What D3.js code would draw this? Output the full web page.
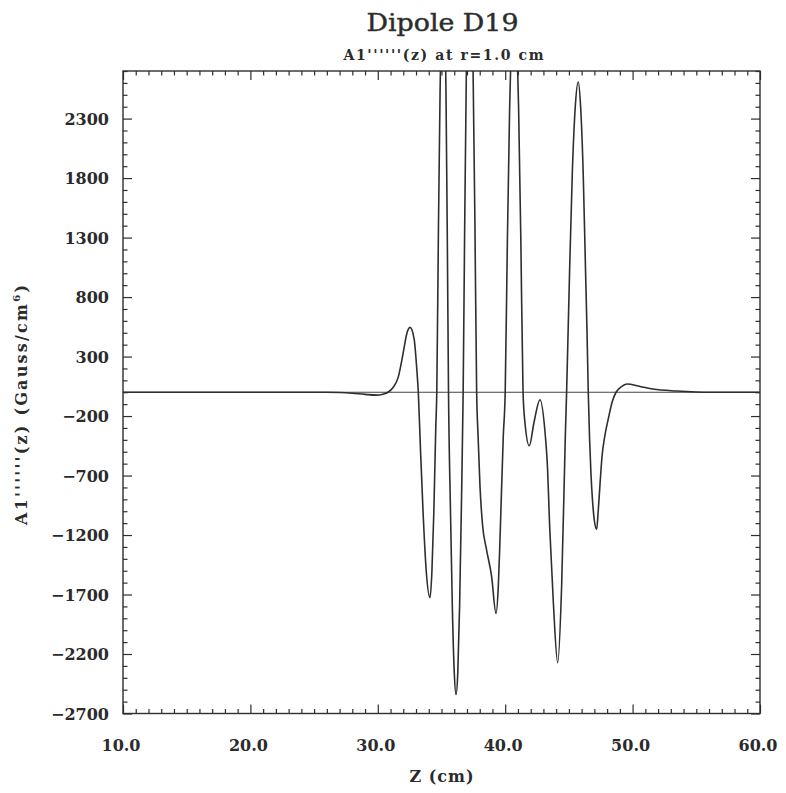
<!DOCTYPE html>
<html>
<head>
<meta charset="utf-8">
<script src="https://cdn.jsdelivr.net/npm/d3@7"></script>
<style>
  body { margin: 0; background: #ffffff; }
  text { font-family: "DejaVu Serif", "Liberation Serif", serif; fill: #2b2b2b; }
</style>
</head>
<body>
<svg id="chart" width="786" height="793"></svg>
<script>
// Sixth derivative of the dipole harmonic A1 along the magnet axis (r = 1.0 cm)
const titleText = "Dipole D19";
const subtitleText = "A1''''''(z) at r=1.0 cm";
const xLabelText = "Z (cm)";

// Longitudinal position, cm
const zValues = [
  10, 20, 26, 27, 28, 29, 29.9, 30.4, 30.8, 31.2, 31.6, 32.0, 32.27, 32.53, 32.85, 33.06,
  33.18, 33.35, 33.55, 33.8, 34.1, 34.25, 34.4, 34.55, 34.63,
  34.76, 34.89, 35.02, 35.15, 35.25, 35.35, 35.45, 35.55,
  35.7, 35.85, 36.0, 36.14, 36.28, 36.42, 36.56, 36.7,
  36.825, 36.95, 37.075, 37.2, 37.34, 37.48, 37.62, 37.76,
  37.87, 38.02, 38.23, 38.53, 38.93, 39.28, 39.46, 39.6, 39.85, 40.0,
  40.175, 40.35, 40.525, 40.7, 40.875, 41.05, 41.225, 41.4,
  41.55, 41.89, 42.26, 42.73, 43.15, 43.3, 43.5, 43.78, 44.12, 44.43, 44.72, 44.82,
  45.05, 45.27, 45.5, 45.73, 45.92, 46.12, 46.3, 46.42, 46.52,
  46.62, 46.73, 46.86, 47.0, 47.18, 47.3, 47.45, 47.6, 47.8, 48.1, 48.4, 48.7,
  49.1, 49.56, 50.58, 51.6, 53.46, 55, 56, 60
];
// A1''''''(z), Gauss/cm^6
const a1Values = [
  0, 0, 0, -2, -8, -18, -24, -16, 0, 40, 125, 335, 490, 545, 448, 195,
  0, -480, -1000, -1500, -1727, -1500, -1000, -300, 0,
  1380, 2545, 3330, 3600, 3330, 2545, 1380, 0,
  -970, -1800, -2350, -2540, -2350, -1800, -970, 0,
  1455, 2690, 3510, 3800, 3510, 2690, 1455, 0,
  -366, -788, -1124, -1320, -1545, -1859, -1629, -1208, -366, 0,
  1300, 2400, 3140, 3400, 3140, 2400, 1300, 0,
  -254, -450, -254, -63, -366, -591, -1152, -1769, -2274, -1629, -366, 0,
  1000, 1850, 2400, 2608, 2400, 1850, 1050, 520, 0,
  -380, -680, -920, -1080, -1152, -1000, -760, -540, -380, -220, -80, 0,
  45, 69, 49, 27, 10, 2, 0, 0
];

const xTickValues = [10, 20, 30, 40, 50, 60];
const xTickLabels = ["10.0", "20.0", "30.0", "40.0", "50.0", "60.0"];
const yTickValues = [-2700, -2200, -1700, -1200, -700, -200, 300, 800, 1300, 1800, 2300];
const yTickLabels = ["\u22122700", "\u22122200", "\u22121700", "\u22121200", "\u2212700", "\u2212200",
                     "300", "800", "1300", "1800", "2300"];

const frame = { left: 123, right: 760, top: 71, bottom: 713.5 };
const svg = d3.select("#chart");

const x = d3.scaleLinear().domain([10, 60]).range([frame.left, frame.right]);
const y = d3.scaleLinear().domain([-2700, 2700]).range([frame.bottom, frame.top]);

const ink = "#2e2e2e";

// clip for the curve
svg.append("defs").append("clipPath").attr("id", "plot-clip")
  .append("rect")
  .attr("x", frame.left).attr("y", frame.top)
  .attr("width", frame.right - frame.left).attr("height", frame.bottom - frame.top);

// zero line
svg.append("line")
  .attr("x1", frame.left).attr("x2", frame.right)
  .attr("y1", y(0)).attr("y2", y(0))
  .attr("stroke", "#444").attr("stroke-width", 1.1);

// curve
const points = zValues.map((z, i) => [z, a1Values[i]]);
const line = d3.line().x(d => x(d[0])).y(d => y(d[1])).curve(d3.curveMonotoneX);
svg.append("path")
  .attr("d", line(points))
  .attr("clip-path", "url(#plot-clip)")
  .attr("fill", "none")
  .attr("stroke", ink)
  .attr("stroke-width", 1.6)
  .attr("stroke-linejoin", "round");

// axes with inward ticks on all four sides
const xMinor = d3.range(10, 61, 1).filter(v => v % 10 !== 0);
const yMinor = d3.range(-2700, 2701, 100).filter(v => (v + 2700) % 500 !== 0);
const major = 9, minor = 4.5;

function addAxis(axis, tx, ty) {
  const g = svg.append("g").attr("transform", `translate(${tx},${ty})`).call(axis);
  g.selectAll(".domain").remove();
  g.selectAll("line").attr("stroke", ink).attr("stroke-width", 1.2);
  g.selectAll("text").remove();
  return g;
}
addAxis(d3.axisBottom(x).tickValues(xTickValues).tickSize(-major), 0, frame.bottom);
addAxis(d3.axisBottom(x).tickValues(xMinor).tickSize(-minor), 0, frame.bottom);
addAxis(d3.axisTop(x).tickValues(xTickValues).tickSize(-major), 0, frame.top);
addAxis(d3.axisTop(x).tickValues(xMinor).tickSize(-minor), 0, frame.top);
addAxis(d3.axisLeft(y).tickValues(yTickValues).tickSize(-major), frame.left, 0);
addAxis(d3.axisLeft(y).tickValues(yMinor).tickSize(-minor), frame.left, 0);
addAxis(d3.axisRight(y).tickValues(yTickValues).tickSize(-major), frame.right, 0);
addAxis(d3.axisRight(y).tickValues(yMinor).tickSize(-minor), frame.right, 0);

// frame
svg.append("rect")
  .attr("x", frame.left).attr("y", frame.top)
  .attr("width", frame.right - frame.left).attr("height", frame.bottom - frame.top)
  .attr("fill", "none").attr("stroke", ink).attr("stroke-width", 1.4);

// tick labels
svg.append("g").selectAll("text").data(xTickValues).join("text")
  .attr("x", d => x(d) - 2).attr("y", 751)
  .attr("text-anchor", "middle")
  .attr("font-size", 16).attr("font-weight", "bold")
  .text((d, i) => xTickLabels[i]);

svg.append("g").selectAll("text").data(yTickValues).join("text")
  .attr("x", 109).attr("y", d => y(d) + 6)
  .attr("text-anchor", "end")
  .attr("font-size", 16).attr("font-weight", "bold")
  .text((d, i) => yTickLabels[i]);

// titles
const cx = (frame.left + frame.right) / 2;
svg.append("text").attr("x", cx + 1).attr("y", 31)
  .attr("text-anchor", "middle").attr("font-size", 25)
  .attr("fill", "#3a3a3a").attr("stroke", "#3a3a3a").attr("stroke-width", 0.5)
  .attr("textLength", 152).attr("lengthAdjust", "spacingAndGlyphs")
  .text(titleText);
svg.append("text").attr("x", cx + 2).attr("y", 60)
  .attr("text-anchor", "middle").attr("font-size", 14).attr("font-weight", "bold")
  .attr("textLength", 200).attr("lengthAdjust", "spacing")
  .text(subtitleText);

svg.append("text").attr("x", cx).attr("y", 782)
  .attr("text-anchor", "middle").attr("font-size", 16).attr("font-weight", "bold")
  .attr("textLength", 64).attr("lengthAdjust", "spacing")
  .text(xLabelText);

// y-axis label with superscript unit power
const yLab = svg.append("text")
  .attr("transform", `translate(27,405) rotate(-90)`)
  .attr("text-anchor", "middle").attr("font-size", 16).attr("font-weight", "bold")
  .attr("textLength", 240).attr("lengthAdjust", "spacing");
yLab.append("tspan").text("A1''''''(z) (Gauss/cm");
yLab.append("tspan").attr("font-size", 10).attr("dy", -7).text("6");
yLab.append("tspan").attr("dy", 7).text(")");
</script>
</body>
</html>
